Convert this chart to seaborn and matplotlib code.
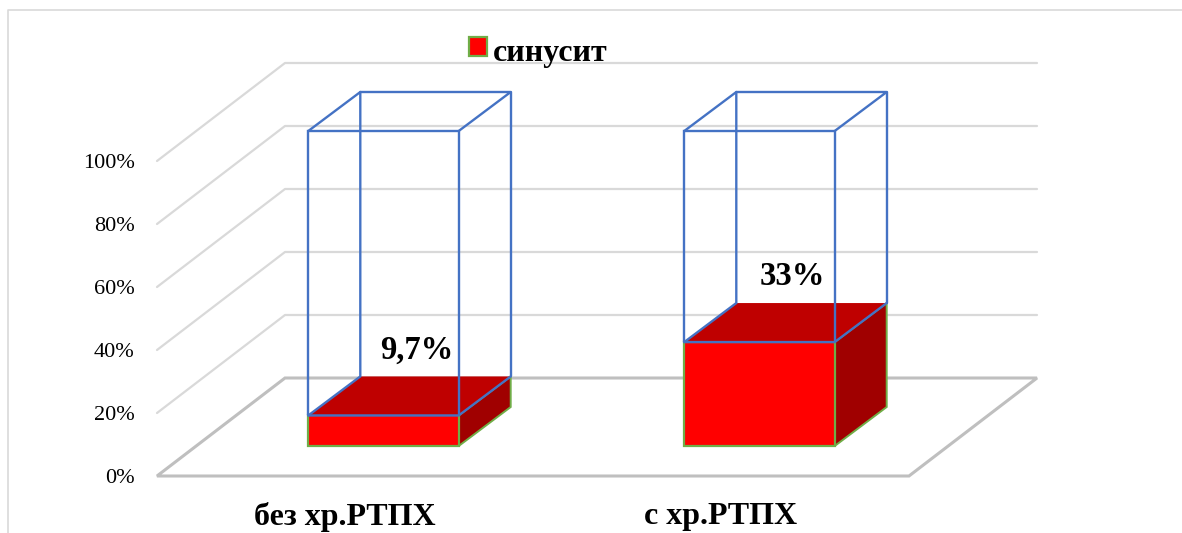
import matplotlib
matplotlib.use("Agg")
import matplotlib.pyplot as plt
from matplotlib.lines import Line2D
from matplotlib.patches import Polygon
import seaborn as sns

groups = ["без хр.РТПХ", "с хр.РТПХ"]
values = [9.7, 33]
value_labels = ["9,7%", "33%"]
series_name = "синусит"
y_ticks = [0, 20, 40, 60, 80, 100]
y_tick_labels = ["0%", "20%", "40%", "60%", "80%", "100%"]

W, H = 1182, 533
RED, RED_TOP, RED_SIDE = "#FF0000", "#BF0000", "#A00000"
GREEN, BLUE = "#70AD47", "#4472C4"
GRID, FLOOR = "#D9D9D9", "#BFBFBF"

sns.set_theme(style="white")
plt.rcParams["font.family"] = ["Liberation Serif", "DejaVu Serif"]

fig = plt.figure(figsize=(W / 100, H / 100), dpi=100, facecolor="white")


def px_axes(left, top, right, bottom):
    # axes placed by pixel box, y measured from the top of the image
    return fig.add_axes([left / W, (H - bottom) / H, (right - left) / W, (bottom - top) / H])


# front plane of the chart, carries the ticks and the grid
ax = px_axes(157, 161, 909, 476)
ax.set_xlim(-0.5, 1.5)
ax.set_ylim(0, 100)
ax.patch.set_alpha(0)
sns.despine(ax=ax, left=True, bottom=True)
ax.set_xticks([0, 1], groups, fontsize=23, fontweight="bold", color="black")
ax.set_yticks(y_ticks, y_tick_labels, fontsize=16, color="black")
ax.tick_params(axis="x", length=0, pad=19)
ax.tick_params(axis="y", length=0, pad=16)

# wall depth in data units of ax
wall_dx = 128 / 376
wall_dy = 98 / 3.15
for v in y_ticks[1:]:
    ax.plot([-0.5, -0.5 + wall_dx, 1.5 + wall_dx], [v, v + wall_dy, v + wall_dy],
            color=GRID, lw=1.6, clip_on=False, zorder=1)
ax.add_patch(Polygon([(-0.5, 0), (-0.5 + wall_dx, wall_dy), (1.5 + wall_dx, wall_dy), (1.5, 0)],
                     closed=True, fill=False, edgecolor=FLOOR, lw=2.2, clip_on=False, zorder=1))

# bars sit part way into the floor
ax_bars = px_axes(195.5, 131, 947.5, 446)
ax_bars.patch.set_alpha(0)
sns.barplot(x=groups, y=values, ax=ax_bars, width=0.4, color=RED, saturation=1,
            edgecolor=GREEN, linewidth=1.6, label=series_name, clip_on=False, zorder=3)
ax_bars.set_xlim(-0.5, 1.5)
ax_bars.set_ylim(0, 100)
ax_bars.set_xticks([])
ax_bars.set_yticks([])
ax_bars.set_xlabel("")
ax_bars.set_ylabel("")
sns.despine(ax=ax_bars, left=True, bottom=True)

bar_dx = 52 / 376
bar_dy = 39 / 3.15
for bar, label in zip(ax_bars.patches, value_labels):
    x0 = bar.get_x()
    x1 = x0 + bar.get_width()
    h = bar.get_height()
    # side and top faces of the 3d bar
    ax_bars.add_patch(Polygon([(x1, 0), (x1 + bar_dx, bar_dy), (x1 + bar_dx, h + bar_dy), (x1, h)],
                              closed=True, facecolor=RED_SIDE, edgecolor=GREEN, lw=1.4,
                              clip_on=False, zorder=2))
    ax_bars.add_patch(Polygon([(x0, h), (x0 + bar_dx, h + bar_dy), (x1 + bar_dx, h + bar_dy), (x1, h)],
                              closed=True, facecolor=RED_TOP, edgecolor="none",
                              clip_on=False, zorder=4))
    # wire box up to 100%
    box = [
        ([x0, x0, x1, x1], [h, 100, 100, h]),
        ([x0, x1, x1 + bar_dx], [h, h, h + bar_dy]),
        ([x0, x0 + bar_dx, x0 + bar_dx], [h, h + bar_dy, 100 + bar_dy]),
        ([x1 + bar_dx, x1 + bar_dx], [h + bar_dy, 100 + bar_dy]),
        ([x0, x0 + bar_dx, x1 + bar_dx, x1], [100, 100 + bar_dy, 100 + bar_dy, 100]),
    ]
    for xs, ys in box:
        ax_bars.plot(xs, ys, color=BLUE, lw=1.7, clip_on=False, zorder=5, solid_joinstyle="miter")
    ax_bars.annotate(label, (x0 + bar.get_width() / 2, h), xytext=(33 * 0.72, 65.5 * 0.72),
                     textcoords="offset points", ha="center", va="center",
                     fontsize=23.5, fontweight="bold", color="black", zorder=6)

# legend, text sits a bit lower than the swatch
leg = ax_bars.legend(loc="center left", bbox_to_anchor=(469 / W, (H - 53) / H),
                     bbox_transform=fig.transFigure, frameon=False, ncol=1,
                     handlelength=0.56, handleheight=0.56, handletextpad=0.2,
                     borderpad=0, borderaxespad=0,
                     prop={"size": 23, "weight": "bold"})
for t in leg.get_texts():
    t.set_color("black")
handle = leg.legend_handles[0]
handle.set_y(handle.get_y() + 2.5 * 0.72)

# thin outer frame of the chart area
fig.add_artist(Line2D([8 / W, 8 / W, 1], [0, (H - 10) / H, (H - 10) / H],
                      color=GRID, lw=1.2, transform=fig.transFigure))

fig.savefig("out.png", dpi=100)
